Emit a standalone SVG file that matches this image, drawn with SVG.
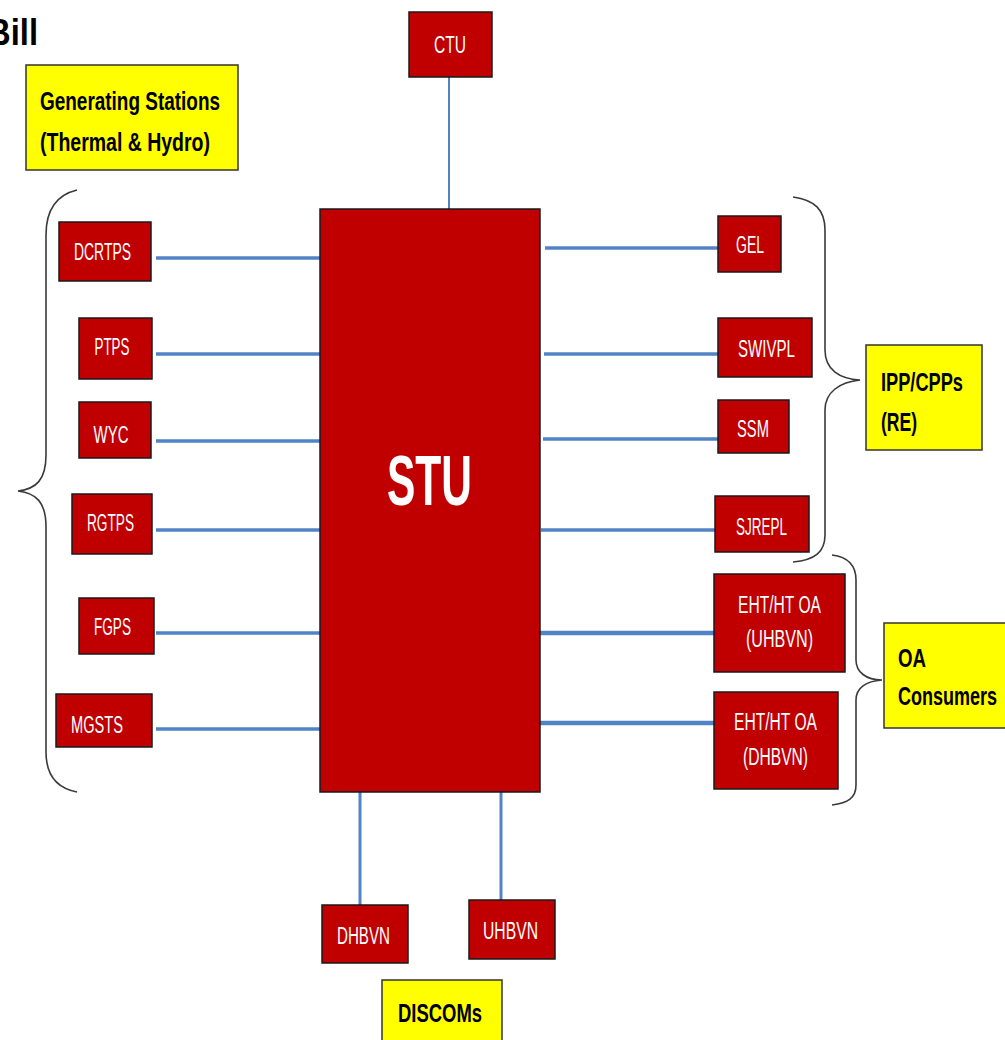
<svg xmlns="http://www.w3.org/2000/svg" width="1005" height="1040" viewBox="0 0 1005 1040">
<style>
  .box { fill: #c00000; stroke: #1a1a1a; stroke-width: 1.5; }
  .ybox { fill: #ffff00; stroke: #333333; stroke-width: 1.5; }
  .wt { fill: #ffffff; font-family: "Liberation Sans Narrow", "Liberation Sans", Arial, sans-serif; font-size: 23.5px; text-anchor: middle; }
  .bt { fill: #000000; font-family: "Liberation Sans Narrow", "Liberation Sans", Arial, sans-serif; font-size: 26px; font-weight: bold; }
  .conn { stroke: #5283c4; stroke-width: 3.5; fill: none; }
  .brace { stroke: #3a3a3a; stroke-width: 1.6; fill: none; }
</style>
<rect width="1005" height="1040" fill="#ffffff"/>

<text x="-13" y="45" class="bt" style="font-size:36px" textLength="51" lengthAdjust="spacingAndGlyphs">Bill</text>

<g id="connectors">
  <line class="conn" style="stroke-width:2" x1="449" y1="77" x2="449" y2="209"/>
  <line class="conn" x1="156" y1="258" x2="320" y2="258"/>
  <line class="conn" x1="156" y1="354" x2="320" y2="354"/>
  <line class="conn" x1="156" y1="441" x2="320" y2="441"/>
  <line class="conn" x1="156" y1="530" x2="320" y2="530"/>
  <line class="conn" x1="156" y1="633" x2="320" y2="633"/>
  <line class="conn" x1="156" y1="729" x2="320" y2="729"/>
  <line class="conn" x1="545" y1="248" x2="718" y2="248"/>
  <line class="conn" x1="544" y1="354" x2="718" y2="354"/>
  <line class="conn" x1="543" y1="439" x2="718" y2="439"/>
  <line class="conn" x1="541" y1="530" x2="715" y2="530"/>
  <line class="conn" style="stroke-width:4.5" x1="540" y1="633" x2="714" y2="633"/>
  <line class="conn" style="stroke-width:4.5" x1="540" y1="723" x2="714" y2="723"/>
  <line class="conn" style="stroke-width:3" x1="360" y1="792" x2="360" y2="905"/>
  <line class="conn" style="stroke-width:3" x1="501" y1="792" x2="501" y2="900"/>
</g>

<g id="braces">
  <path class="brace" d="M77,190 C56,195 46,210 46,235 L46,455 C46,480 36,489 18,491 C36,493 46,502 46,527 L46,752 C46,775 56,788 77,792"/>
  <path class="brace" d="M793,197 C815,200 825,210 825,230 L825,350 C825,370 840,379 860,380 C840,382 825,392 825,410 L825,535 C825,552 815,560 793,562"/>
  <path class="brace" d="M832,555 C848,557 856,565 856,580 L856,660 C856,672 866,680 882,680 C866,681 856,688 856,700 L856,785 C856,798 848,803 832,805"/>
</g>

<g id="gen-stations">
  <rect class="ybox" x="26" y="65" width="212" height="105"/>
  <text class="bt" x="40" y="110" textLength="180" lengthAdjust="spacingAndGlyphs">Generating Stations</text>
  <text class="bt" x="40" y="151" textLength="170" lengthAdjust="spacingAndGlyphs">(Thermal &amp; Hydro)</text>
</g>

<g id="ctu">
  <rect class="box" x="409" y="12" width="83" height="65"/>
  <text class="wt" x="450" y="53" textLength="32" lengthAdjust="spacingAndGlyphs">CTU</text>
</g>

<g id="stu">
  <rect class="box" x="320" y="209" width="220" height="583"/>
  <text class="wt" x="429.5" y="505" style="font-size:70px;font-weight:bold" textLength="85" lengthAdjust="spacingAndGlyphs">STU</text>
</g>

<g id="dcrtps">
  <rect class="box" x="59" y="222" width="92" height="59"/>
  <text class="wt" x="102.5" y="260" textLength="57" lengthAdjust="spacingAndGlyphs">DCRTPS</text>
</g>
<g id="ptps">
  <rect class="box" x="79" y="318" width="73" height="61"/>
  <text class="wt" x="112" y="355" textLength="35" lengthAdjust="spacingAndGlyphs">PTPS</text>
</g>
<g id="wyc">
  <rect class="box" x="79" y="402" width="72" height="56"/>
  <text class="wt" x="111" y="443" textLength="35" lengthAdjust="spacingAndGlyphs">WYC</text>
</g>
<g id="rgtps">
  <rect class="box" x="72" y="494" width="80" height="60"/>
  <text class="wt" x="110.5" y="531" textLength="47" lengthAdjust="spacingAndGlyphs">RGTPS</text>
</g>
<g id="fgps">
  <rect class="box" x="79" y="598" width="75" height="56"/>
  <text class="wt" x="112.5" y="635" textLength="37" lengthAdjust="spacingAndGlyphs">FGPS</text>
</g>
<g id="mgsts">
  <rect class="box" x="56" y="694" width="96" height="53"/>
  <text class="wt" x="97" y="733" textLength="52" lengthAdjust="spacingAndGlyphs">MGSTS</text>
</g>

<g id="gel">
  <rect class="box" x="718" y="216" width="63" height="56"/>
  <text class="wt" x="750" y="253" textLength="28" lengthAdjust="spacingAndGlyphs">GEL</text>
</g>
<g id="swivpl">
  <rect class="box" x="718" y="318" width="94" height="59"/>
  <text class="wt" x="766.5" y="357" textLength="57" lengthAdjust="spacingAndGlyphs">SWIVPL</text>
</g>
<g id="ssm">
  <rect class="box" x="718" y="400" width="71" height="53"/>
  <text class="wt" x="753" y="437" textLength="32" lengthAdjust="spacingAndGlyphs">SSM</text>
</g>
<g id="sjrepl">
  <rect class="box" x="715" y="496" width="94" height="56"/>
  <text class="wt" x="761.5" y="535" textLength="51" lengthAdjust="spacingAndGlyphs">SJREPL</text>
</g>

<g id="ipp-cpps">
  <rect class="ybox" x="866" y="345" width="116" height="105"/>
  <text class="bt" x="881" y="391" textLength="82" lengthAdjust="spacingAndGlyphs">IPP/CPPs</text>
  <text class="bt" x="881" y="431" textLength="36" lengthAdjust="spacingAndGlyphs">(RE)</text>
</g>

<g id="eht-uhbvn">
  <rect class="box" x="714" y="574" width="131" height="98"/>
  <text class="wt" x="779.5" y="613" textLength="83" lengthAdjust="spacingAndGlyphs">EHT/HT OA</text>
  <text class="wt" x="779.5" y="647" textLength="67" lengthAdjust="spacingAndGlyphs">(UHBVN)</text>
</g>
<g id="eht-dhbvn">
  <rect class="box" x="714" y="692" width="124" height="97"/>
  <text class="wt" x="775.5" y="730" textLength="83" lengthAdjust="spacingAndGlyphs">EHT/HT OA</text>
  <text class="wt" x="775.5" y="765" textLength="65" lengthAdjust="spacingAndGlyphs">(DHBVN)</text>
</g>

<g id="oa-consumers">
  <rect class="ybox" x="884" y="623" width="130" height="105"/>
  <text class="bt" x="898" y="667" textLength="28" lengthAdjust="spacingAndGlyphs">OA</text>
  <text class="bt" x="898" y="705" textLength="99" lengthAdjust="spacingAndGlyphs">Consumers</text>
</g>

<g id="dhbvn">
  <rect class="box" x="322" y="905" width="86" height="58"/>
  <text class="wt" x="363.5" y="944" textLength="53" lengthAdjust="spacingAndGlyphs">DHBVN</text>
</g>
<g id="uhbvn">
  <rect class="box" x="469" y="900" width="86" height="59"/>
  <text class="wt" x="510.5" y="939" textLength="55" lengthAdjust="spacingAndGlyphs">UHBVN</text>
</g>

<g id="discoms">
  <rect class="ybox" x="382" y="980" width="120" height="70"/>
  <text class="bt" x="398" y="1022" textLength="84" lengthAdjust="spacingAndGlyphs">DISCOMs</text>
</g>
</svg>
